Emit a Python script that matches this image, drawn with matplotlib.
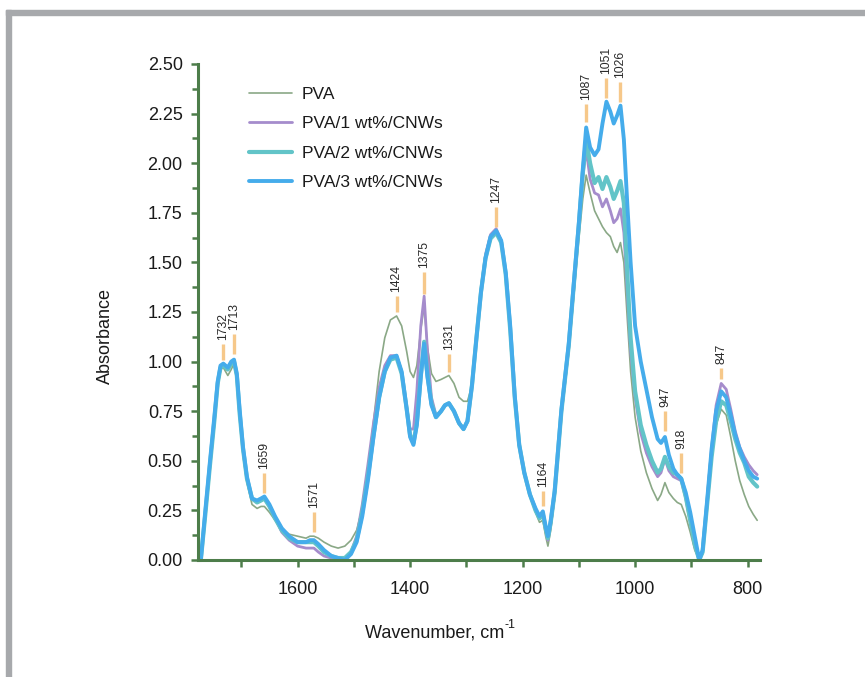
import matplotlib
matplotlib.use("Agg")
import matplotlib.pyplot as plt
from matplotlib.patches import Rectangle

plt.rcParams['font.family'] = ['Liberation Sans', 'DejaVu Sans']

# ---------------- data ----------------
wavenumber = [
    1772, 1764, 1756, 1748, 1742, 1737, 1732, 1724, 1718, 1713,
    1708, 1703, 1697, 1690, 1681, 1672, 1665, 1659, 1650, 1640,
    1628, 1615, 1600, 1585, 1578, 1571, 1563, 1553, 1540, 1528,
    1516, 1505, 1495, 1485, 1475, 1465, 1455, 1445, 1435, 1424,
    1415, 1406, 1400, 1394, 1388, 1381, 1375, 1369, 1362, 1354,
    1345, 1338, 1331, 1322, 1313, 1305, 1298, 1290, 1282, 1274,
    1266, 1257, 1247, 1238, 1230, 1222, 1214, 1206, 1197, 1187,
    1177, 1170, 1164, 1159, 1155, 1150, 1143, 1131, 1118, 1108,
    1100, 1093, 1087, 1080, 1072, 1065, 1058, 1051, 1044, 1038,
    1032, 1026, 1020, 1014, 1008, 1000, 990, 980, 970, 960,
    954, 947, 940, 932, 925, 918, 910, 902, 894, 886,
    880, 872, 864, 856, 847, 838, 830, 822, 814, 806,
    798, 790, 783,
]

pva = [
    0.00, 0.22, 0.46, 0.68, 0.87, 0.96, 0.97, 0.93, 0.96, 0.99,
    0.91, 0.72, 0.53, 0.39, 0.28, 0.26, 0.27, 0.27, 0.24, 0.20,
    0.16, 0.13, 0.12, 0.11, 0.12, 0.12, 0.11, 0.09, 0.07, 0.06,
    0.07, 0.10, 0.15, 0.26, 0.45, 0.70, 0.95, 1.12, 1.21, 1.23,
    1.18, 1.05, 0.95, 0.92, 0.98, 1.16, 1.28, 1.07, 0.94, 0.90,
    0.91, 0.92, 0.93, 0.89, 0.82, 0.80, 0.80, 0.88, 1.12, 1.35,
    1.52, 1.62, 1.65, 1.60, 1.44, 1.16, 0.82, 0.58, 0.43, 0.32,
    0.24, 0.19, 0.20, 0.12, 0.07, 0.15, 0.31, 0.72, 1.05, 1.36,
    1.62, 1.82, 1.94, 1.85, 1.76, 1.72, 1.68, 1.65, 1.63, 1.58,
    1.55, 1.60, 1.50, 1.22, 0.95, 0.72, 0.55, 0.44, 0.36, 0.30,
    0.33, 0.39, 0.34, 0.31, 0.29, 0.28, 0.22, 0.14, 0.05, 0.00,
    0.03, 0.25, 0.50, 0.68, 0.76, 0.73, 0.62, 0.50, 0.40, 0.33,
    0.27, 0.23, 0.20,
]

pva_1 = [
    0.00, 0.23, 0.47, 0.70, 0.89, 0.97, 0.98, 0.96, 0.99, 1.00,
    0.93, 0.74, 0.56, 0.41, 0.31, 0.29, 0.30, 0.31, 0.27, 0.21,
    0.14, 0.10, 0.07, 0.06, 0.06, 0.06, 0.04, 0.02, 0.01, 0.00,
    0.00, 0.04, 0.12, 0.28, 0.48, 0.69, 0.87, 0.98, 1.03, 1.03,
    0.95, 0.77, 0.66, 0.66, 0.85, 1.18, 1.33, 1.05, 0.82, 0.73,
    0.75, 0.78, 0.79, 0.75, 0.69, 0.66, 0.70, 0.88, 1.13, 1.36,
    1.54, 1.64, 1.67, 1.61, 1.45, 1.17, 0.83, 0.58, 0.44, 0.33,
    0.25, 0.21, 0.22, 0.15, 0.10, 0.18, 0.33, 0.74, 1.07, 1.41,
    1.68, 1.93, 2.07, 1.92, 1.85, 1.84, 1.78, 1.82, 1.76, 1.70,
    1.72, 1.77, 1.65, 1.35, 1.05, 0.82, 0.64, 0.54, 0.47, 0.42,
    0.44, 0.51, 0.45, 0.42, 0.41, 0.40, 0.31, 0.19, 0.07, 0.00,
    0.05, 0.30, 0.57, 0.78, 0.89, 0.86, 0.76, 0.65, 0.57, 0.52,
    0.48, 0.45, 0.43,
]

pva_2 = [
    0.00, 0.23, 0.47, 0.70, 0.89, 0.97, 0.98, 0.96, 0.99, 1.00,
    0.93, 0.74, 0.56, 0.41, 0.31, 0.29, 0.30, 0.31, 0.27, 0.21,
    0.15, 0.11, 0.09, 0.09, 0.09, 0.09, 0.07, 0.04, 0.02, 0.01,
    0.01, 0.04, 0.10, 0.24, 0.42, 0.63, 0.82, 0.95, 1.01, 1.02,
    0.94, 0.76, 0.63, 0.59, 0.69, 0.93, 1.10, 0.93, 0.79, 0.72,
    0.75, 0.78, 0.79, 0.75, 0.69, 0.66, 0.70, 0.88, 1.12, 1.35,
    1.52, 1.62, 1.65, 1.60, 1.44, 1.16, 0.82, 0.58, 0.44, 0.33,
    0.25, 0.21, 0.23, 0.16, 0.11, 0.19, 0.34, 0.75, 1.08, 1.42,
    1.69, 1.95, 2.12, 2.00, 1.90, 1.93, 1.87, 1.93, 1.88, 1.82,
    1.86, 1.91, 1.80, 1.45, 1.12, 0.85, 0.68, 0.58, 0.50, 0.44,
    0.46, 0.52, 0.47, 0.44, 0.43, 0.41, 0.32, 0.20, 0.08, 0.00,
    0.04, 0.28, 0.52, 0.70, 0.80, 0.78, 0.70, 0.61, 0.54, 0.49,
    0.42, 0.39, 0.37,
]

pva_3 = [
    0.00, 0.25, 0.49, 0.72, 0.90, 0.98, 0.99, 0.97, 1.00, 1.01,
    0.94, 0.76, 0.57, 0.42, 0.31, 0.30, 0.31, 0.32, 0.28, 0.22,
    0.16, 0.12, 0.09, 0.09, 0.10, 0.10, 0.08, 0.05, 0.02, 0.01,
    0.00, 0.03, 0.09, 0.22, 0.40, 0.62, 0.82, 0.95, 1.02, 1.03,
    0.95, 0.76, 0.62, 0.58, 0.68, 0.92, 1.09, 0.92, 0.78, 0.72,
    0.75, 0.78, 0.79, 0.75, 0.69, 0.66, 0.70, 0.88, 1.12, 1.35,
    1.52, 1.63, 1.66, 1.61, 1.45, 1.18, 0.83, 0.58, 0.44, 0.33,
    0.26, 0.22, 0.245, 0.17, 0.12, 0.20, 0.35, 0.76, 1.09, 1.43,
    1.70, 1.97, 2.18, 2.08, 2.04, 2.07, 2.20, 2.31, 2.26, 2.20,
    2.24, 2.29, 2.12, 1.80, 1.50, 1.18, 1.00, 0.86, 0.72, 0.61,
    0.59, 0.62, 0.53, 0.46, 0.43, 0.41, 0.34, 0.24, 0.12, 0.00,
    0.05, 0.30, 0.56, 0.75, 0.85, 0.82, 0.73, 0.63, 0.56, 0.50,
    0.45, 0.42, 0.41,
]

series_labels = ["PVA", "PVA/1 wt%/CNWs", "PVA/2 wt%/CNWs", "PVA/3 wt%/CNWs"]

peak_labels = ["1732", "1713", "1659", "1571", "1424", "1375", "1331", "1247",
               "1164", "1087", "1051", "1026", "947", "918", "847"]
peak_pos = [1732, 1713, 1659, 1571, 1424, 1375, 1331, 1247,
            1164, 1087, 1051, 1026, 947, 918, 847]
peak_mark_low = [1.01, 1.04, 0.34, 0.14, 1.25, 1.34, 0.95, 1.68,
                 0.27, 2.21, 2.33, 2.31, 0.65, 0.44, 0.91]
peak_mark_high = [1.09, 1.14, 0.44, 0.24, 1.33, 1.45, 1.04, 1.78,
                  0.35, 2.30, 2.43, 2.41, 0.75, 0.54, 0.97]

# ---------------- figure ----------------
W, H = 865, 677
fig = plt.figure(figsize=(W / 100, H / 100), dpi=100)
fig.patch.set_facecolor('white')

border = '#a7a9ac'
fig.patches.append(Rectangle((6 / W, 1 - 15 / H), 1 - 6 / W, 5 / H,
                             transform=fig.transFigure, color=border, zorder=0))
fig.patches.append(Rectangle((6 / W, 0), 5 / W, 1 - 10 / H,
                             transform=fig.transFigure, color=border, zorder=0))

left, right, top, bottom = 198, 760, 64, 560
ax = fig.add_axes([left / W, 1 - bottom / H, (right - left) / W, (bottom - top) / H])

colors = ['#8aa886', '#a58ccc', '#62c4c8', '#45aceb']
widths = [1.2, 2.0, 3.0, 2.8]
for vals, lab, c, lw in zip([pva, pva_1, pva_2, pva_3], series_labels, colors, widths):
    ax.plot(wavenumber, vals, color=c, lw=lw, label=lab, solid_capstyle='round',
            solid_joinstyle='round', clip_on=False)

ax.set_xlim(1777, 778)
ax.set_ylim(0, 2.5)

ax.vlines(peak_pos, peak_mark_low, peak_mark_high, colors='#f6c88a', lw=2.4, zorder=5)
for lab, x, yh in zip(peak_labels, peak_pos, peak_mark_high):
    ax.text(x, yh + 0.02, lab, rotation=90, ha='center', va='bottom',
            fontsize=8.8, color='#2a2a2a', clip_on=False, zorder=6)

spine_c = '#4d7d4a'
for s in ['top', 'right']:
    ax.spines[s].set_visible(False)
for s in ['left', 'bottom']:
    ax.spines[s].set_color(spine_c)
    ax.spines[s].set_linewidth(2.2)
ax.spines['left'].set_bounds(0, 2.5)

ax.set_yticks([0, 0.25, 0.5, 0.75, 1.0, 1.25, 1.5, 1.75, 2.0, 2.25, 2.5])
ax.set_yticklabels(['%.2f' % v for v in ax.get_yticks()])
ax.set_yticks([0.125 + 0.25 * i for i in range(10)], minor=True)
ax.set_xticks([1600, 1400, 1200, 1000, 800])
ax.set_xticks([1700, 1500, 1300, 1100, 900], minor=True)

ax.tick_params(axis='both', which='both', color=spine_c, width=1.8, direction='out')
ax.tick_params(axis='y', which='major', length=5, pad=6, labelsize=13, labelcolor='#1a1a1a')
ax.tick_params(axis='y', which='minor', length=4)
ax.tick_params(axis='x', which='major', length=5, pad=10, labelsize=13, labelcolor='#1a1a1a')
ax.tick_params(axis='x', which='minor', length=5)

# x label with a hyphen superscript
xl = fig.text(365 / W, 1 - 633 / H, 'Wavenumber, cm', ha='left', va='center',
              fontsize=13, color='#1a1a1a')
fig.canvas.draw()
bb = xl.get_window_extent()
fig.text(bb.x1 / W + 0.5 / W, (bb.y0 + 0.62 * bb.height) / H, '-1', ha='left', va='bottom',
         fontsize=9, color='#1a1a1a')
fig.text(105 / W, 1 - 336 / H, 'Absorbance', ha='center', va='center', rotation=90,
         fontsize=13, color='#1a1a1a')

leg = ax.legend(loc='upper left', bbox_to_anchor=((249 - left) / (right - left), 1 - (87 - top) / (bottom - top)),
                frameon=False, fontsize=12.5, handlelength=2.5, handletextpad=0.55,
                labelspacing=0.81, borderaxespad=0, borderpad=0)
for t in leg.get_texts():
    t.set_color('#1a1a1a')

fig.savefig('out.png', dpi=100, facecolor='white')
